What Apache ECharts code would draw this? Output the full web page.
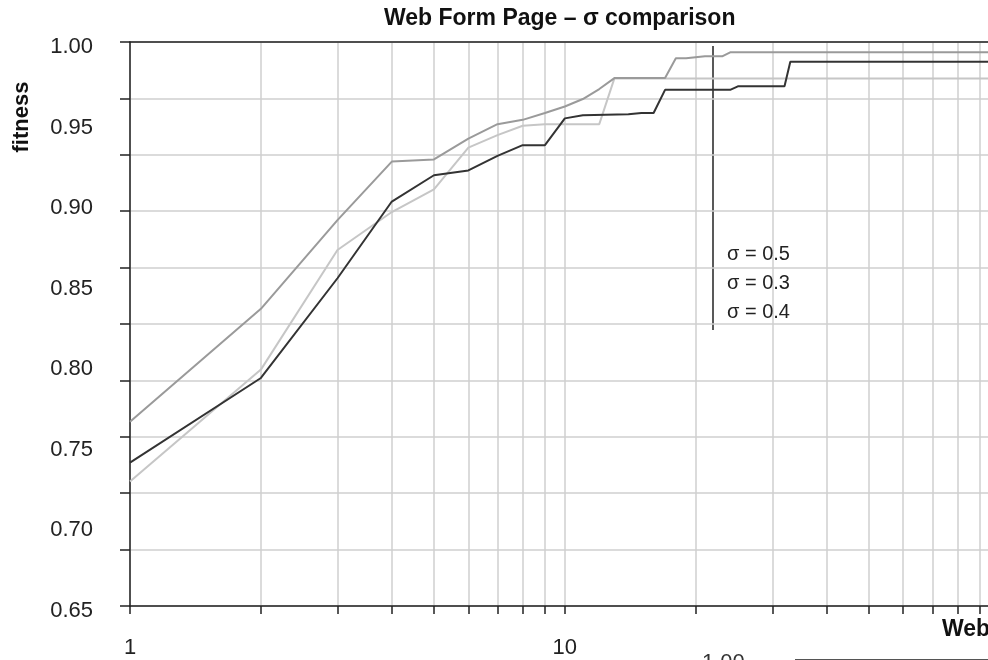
<!DOCTYPE html>
<html>
<head>
<meta charset="utf-8">
<title>Web Form Page – σ comparison</title>
<script src="https://cdn.jsdelivr.net/npm/echarts@6/dist/echarts.min.js"></script>
<style>
html, body { margin: 0; padding: 0; background: #fff; }
#main { width: 988px; height: 660px; }
</style>
</head>
<body>
<div id="main"></div>
<script>
// axis ticks / labels
var xTicks = [1, 2, 3, 4, 5, 6, 7, 8, 9, 10, 20, 30, 40, 50, 60, 70, 80, 90];
var xLabels = [1, 10];
var yTicks = [0.65, 0.685, 0.72, 0.755, 0.79, 0.825, 0.86, 0.895, 0.93, 0.965, 1.00];
var yLabels = [0.65, 0.70, 0.75, 0.80, 0.85, 0.90, 0.95, 1.00];

// series names (legend order)
var names = ['σ = 0.5', 'σ = 0.3', 'σ = 0.4'];

// sigma = 0.5 (mid gray)
var x05 = [1, 2, 3, 4, 5, 6, 7, 8, 9, 10, 11, 12, 13, 17, 18, 19, 21, 23, 24, 94];
var y05 = [0.7644, 0.8344, 0.8895, 0.9258, 0.9271, 0.9401, 0.9490, 0.9517, 0.9559, 0.9600,
           0.9646, 0.9708, 0.9776, 0.9776, 0.9899, 0.9899, 0.9911, 0.9911, 0.9936, 0.9936];

// sigma = 0.3 (light gray)
var x03 = [1, 2, 3, 4, 5, 6, 7, 8, 9, 10, 11, 12, 13, 94];
var y03 = [0.7273, 0.7967, 0.8709, 0.8945, 0.9086, 0.9345, 0.9422, 0.9480, 0.9490, 0.9490,
           0.9490, 0.9490, 0.9774, 0.9774];

// sigma = 0.4 (dark)
var x04 = [1, 2, 3, 4, 5, 6, 7, 8, 9, 10, 11, 14, 15, 16, 17, 24, 25, 32, 33, 94];
var y04 = [0.7390, 0.7915, 0.8534, 0.9010, 0.9173, 0.9203, 0.9293, 0.9360, 0.9360, 0.9526,
           0.9546, 0.9552, 0.9559, 0.9559, 0.9703, 0.9703, 0.9725, 0.9725, 0.9878, 0.9878];

function pairs(xs, ys) {
  return xs.map(function (x, i) { return [x, ys[i]]; });
}

var font = '"Liberation Sans", Arial, sans-serif';
var myChart = echarts.init(document.getElementById('main'));

var option = {
  backgroundColor: '#ffffff',
  animation: false,
  title: {
    text: 'Web Form Page – σ comparison',
    left: 379,
    top: 2,
    textStyle: { fontFamily: font, fontSize: 23, fontWeight: 'bold', color: '#111' }
  },
  legend: {
    data: names,
    orient: 'vertical',
    left: 722,
    top: 244,
    padding: 0,
    icon: 'none',
    itemWidth: 0,
    itemHeight: 14,
    itemGap: 9,
    selectedMode: false,
    textStyle: { fontFamily: font, fontSize: 20, color: '#222', lineHeight: 20 }
  },
  grid: { left: 130, top: 42, right: 0, bottom: 54 },
  xAxis: [
    {
      type: 'log',
      logBase: 10,
      min: 1,
      max: 94,
      axisLine: { show: true, lineStyle: { color: '#222', width: 1.5 } },
      axisTick: { show: true, length: 8, customValues: xTicks, lineStyle: { color: '#222', width: 1.5 } },
      axisLabel: {
        customValues: xLabels,
        margin: 31,
        fontFamily: font,
        fontSize: 22,
        color: '#222'
      },
      splitLine: { show: true, lineStyle: { color: '#cfcfcf', width: 1.5 } }
    },
    {
      type: 'log',
      position: 'top',
      min: 1,
      max: 94,
      axisLine: { show: true, lineStyle: { color: '#222', width: 1.5 } },
      axisTick: { show: false },
      axisLabel: { show: false },
      splitLine: { show: false }
    }
  ],
  yAxis: {
    type: 'value',
    min: 0.65,
    max: 1.0,
    axisLine: { show: true, lineStyle: { color: '#222', width: 1.5 } },
    axisTick: { show: true, length: 10, customValues: yTicks, lineStyle: { color: '#222', width: 1.5 } },
    axisLabel: {
      customValues: yLabels,
      margin: 37,
      verticalAlign: 'top',
      lineHeight: 10,
      fontFamily: font,
      fontSize: 22,
      color: '#222',
      formatter: function (v) { return v.toFixed(2); }
    },
    splitLine: { show: true, lineStyle: { color: '#cfcfcf', width: 1.5 } }
  },
  graphic: [
    {
      type: 'text',
      x: 22, y: 117,
      rotation: Math.PI / 2,
      style: {
        text: 'fitness',
        font: 'bold 22px ' + font,
        fill: '#111',
        align: 'center',
        verticalAlign: 'middle'
      }
    },
    {
      type: 'line',
      shape: { x1: 713, y1: 46, x2: 713, y2: 330 },
      style: { stroke: '#222', lineWidth: 1.5 }
    },
    {
      type: 'text',
      x: 942, y: 630,
      style: { text: 'Web', font: 'bold 23px ' + font, fill: '#111', verticalAlign: 'middle' }
    },
    {
      type: 'text',
      x: 702, y: 652,
      style: { text: '1.00', font: '22px ' + font, fill: '#333', verticalAlign: 'top' }
    },
    {
      type: 'line',
      shape: { x1: 795, y1: 659.5, x2: 988, y2: 659.5 },
      style: { stroke: '#555', lineWidth: 1 }
    }
  ],
  series: [
    {
      name: names[1],
      type: 'line',
      data: pairs(x03, y03),
      showSymbol: false,
      symbol: 'none',
      lineStyle: { color: '#c6c6c6', width: 2 },
      itemStyle: { color: '#c6c6c6' }
    },
    {
      name: names[0],
      type: 'line',
      data: pairs(x05, y05),
      showSymbol: false,
      symbol: 'none',
      lineStyle: { color: '#9a9a9a', width: 2 },
      itemStyle: { color: '#9a9a9a' }
    },
    {
      name: names[2],
      type: 'line',
      data: pairs(x04, y04),
      showSymbol: false,
      symbol: 'none',
      lineStyle: { color: '#333333', width: 2 },
      itemStyle: { color: '#333333' }
    }
  ]
};

myChart.setOption(option);
</script>
</body>
</html>
